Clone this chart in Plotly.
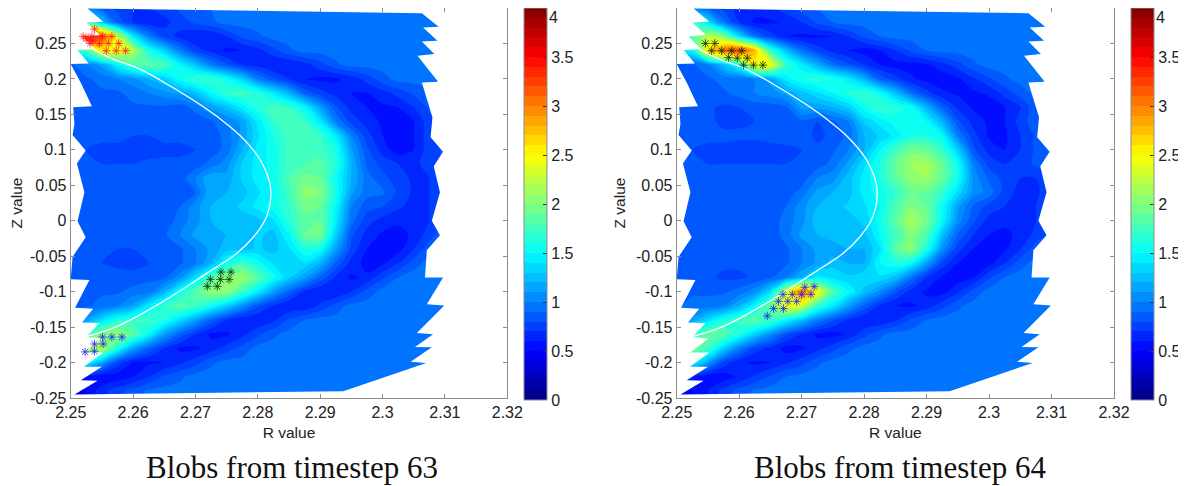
import plotly.graph_objects as go

W, H = 1178, 478   # the page body adds an 8 px margin round the figure
R_cols = [round(2.25 + 0.0025 * i, 4) for i in range(25)]
Z_rows = [round(0.30 - 0.02 * k, 2) for k in range(29)]

field_63 = [
 [1.0,1.0,.88,.76,.7,.7,.76,.82,.88,.9,.94],
 [1.13,1.6,1.26,.88,.7,.64,.66,.76,.82,.88,.94],
 [2.0,3.4,3.3,2.3,1.44,1.0,.76,.66,.6,.6,.7,.82,.88,.94],
 [1.3,1.8,2.5,2.5,2.2,1.6,1.32,1.0,.76,.66,.58,.6,.66,.76,.88,.94],
 [.88,1.0,1.13,1.5,1.8,1.85,1.8,1.5,1.26,1.0,.82,.7,.64,.6,.6,.66,.76,.88,.94],
 [.88,.88,.94,1.0,1.06,1.2,1.32,1.55,1.7,1.7,1.55,1.32,1.0,.82,.7,.6,.58,.58,.64,.74,.86,.94],
 [.84,.84,.88,.88,.94,1.0,1.06,1.13,1.26,1.5,1.7,1.75,1.65,1.44,1.2,.88,.74,.66,.6,.6,.66,.74,.82,.88,.94],
 [.84,.84,.84,.88,.88,.88,.88,.84,.94,1.13,1.26,1.44,1.65,1.75,1.7,1.5,1.13,.82,.66,.6,.58,.6,.7,.82,.94],
 [.84,.84,.84,.84,.84,.88,.88,.84,.84,.88,1.0,1.13,1.44,1.7,1.75,1.7,1.44,1.0,.76,.66,.58,.58,.6,.76,.88],
 [.82,.82,.82,.82,.8,.8,.82,.82,.82,.84,.94,1.13,1.38,1.6,1.75,1.75,1.7,1.44,1.0,.74,.6,.56,.6,.76,.88],
 [.82,.8,.78,.78,.76,.76,.78,.78,.8,.84,.94,1.2,1.44,1.55,1.75,1.8,1.75,1.6,1.13,.82,.66,.54,.6,.76,.82],
 [.84,.82,.8,.8,.8,.82,.82,.82,.84,.94,1.06,1.32,1.44,1.55,1.75,1.8,1.85,1.65,1.2,.88,.76,.7,.66,.76,.82],
 [.84,.82,.82,.82,.82,.82,.82,.84,1.0,1.2,1.13,1.32,1.44,1.55,1.8,1.95,1.9,1.55,1.2,.94,.84,.74,.68,.7,.76],
 [.84,.82,.82,.82,.82,.82,.82,.84,.9,1.2,1.2,1.26,1.38,1.5,1.75,2.05,2.0,1.6,1.13,.94,.92,.78,.68,.7,.76],
 [.84,.82,.82,.82,.82,.82,.84,.9,1.06,1.2,1.26,1.32,1.44,1.55,1.7,1.95,1.9,1.5,1.0,.84,.8,.72,.66,.7,.82],
 [.84,.82,.82,.82,.82,.82,.84,.94,1.06,1.2,1.26,1.26,1.26,1.38,1.65,1.85,1.9,1.44,.94,.74,.66,.62,.62,.7,.82],
 [.84,.82,.8,.8,.8,.84,.88,1.0,1.13,1.13,1.2,1.2,1.32,1.26,1.5,1.9,1.95,1.32,.82,.66,.58,.56,.62,.76,.88],
 [.84,.82,.8,.8,.8,.82,.84,.88,1.0,1.13,1.26,1.26,1.32,1.26,1.38,1.6,1.55,1.13,.76,.6,.54,.56,.7,.86,.94],
 [.82,.82,.8,.78,.76,.8,.84,.88,1.0,1.2,1.55,1.75,1.55,1.38,1.38,1.38,1.2,.88,.66,.56,.58,.7,.86,.94],
 [.82,.84,.84,.84,.84,.88,.88,1.06,1.38,1.8,2.05,2.1,1.85,1.55,1.32,1.13,.88,.68,.58,.62,.78,.9,.94],
 [.84,.88,.88,.88,.94,.94,1.2,1.55,1.85,2.05,2.05,1.75,1.44,1.13,.88,.68,.6,.6,.7,.84,.94],
 [.88,.88,.94,1.0,1.13,1.44,1.7,1.85,1.75,1.55,1.32,1.06,.82,.68,.6,.62,.72,.84,.94],
 [1.0,1.13,1.38,1.6,1.7,1.75,1.6,1.38,1.13,.88,.7,.6,.6,.68,.82,.9,.94],
 [1.26,1.7,2.0,2.1,1.85,1.5,1.13,.88,.7,.58,.58,.66,.78,.88,.94],
 [1.5,2.2,2.2,1.6,1.13,.88,.7,.58,.58,.64,.74,.84,.94],
 [1.26,1.5,1.13,.76,.6,.58,.6,.68,.76,.88,.94],
 [.76,.6,.5,.54,.6,.7,.82,.88,.94],
 [.45,.5,.66,.76,.84,.92,.94],
 [.45,.5,.66,.76,.84,.92,.94],
]

field_64 = [
 [1.0,1.0,.88,.76,.66,.64,.68,.76,.84,.9,.94],
 [1.5,1.7,1.38,.94,.7,.58,.58,.62,.7,.82,.9,.94],
 [1.6,1.8,2.2,2.0,1.38,.94,.76,.6,.58,.58,.6,.7,.82,.9,.94],
 [1.5,1.5,2.6,3.1,3.3,2.8,1.7,1.26,.94,.76,.66,.6,.56,.6,.7,.82,.9,.94],
 [.88,.88,1.0,1.26,1.6,2.5,2.5,1.7,1.44,1.2,.94,.82,.7,.6,.56,.56,.58,.66,.76,.88,.94],
 [.84,.88,.88,.94,.94,1.0,1.13,1.44,1.6,1.65,1.6,1.44,1.2,.88,.74,.62,.56,.54,.58,.68,.78,.88,.94],
 [.84,.84,.88,.88,.94,1.0,1.06,1.13,1.26,1.38,1.5,1.65,1.7,1.55,1.26,.94,.74,.62,.58,.58,.62,.74,.84,.94,.94],
 [.84,.84,.82,.78,.8,.84,.84,.88,1.13,1.13,1.2,1.32,1.55,1.7,1.65,1.55,1.2,.88,.68,.58,.54,.6,.7,.88,.94],
 [.84,.84,.82,.78,.78,.8,.84,.84,.88,.8,.88,1.0,1.32,1.44,1.55,1.6,1.5,1.2,.82,.66,.58,.6,.74,.88,.94],
 [.84,.82,.82,.82,.82,.82,.84,.84,.84,.78,.82,.94,1.2,1.32,1.44,1.6,1.6,1.5,1.0,.74,.58,.58,.7,.82,.84],
 [.82,.8,.78,.78,.76,.76,.76,.78,.8,.82,.88,1.0,1.2,1.5,1.75,1.95,1.9,1.7,1.32,.82,.66,.6,.7,.82,.82],
 [.82,.82,.8,.8,.8,.8,.8,.8,.82,.84,.94,1.13,1.38,1.6,1.9,2.1,2.15,1.9,1.55,1.0,.76,.7,.74,.82,.82],
 [.82,.82,.82,.82,.82,.82,.82,.82,.84,1.0,1.06,1.26,1.44,1.6,1.85,2.05,2.1,1.9,1.55,1.06,.88,.76,.7,.7,.82],
 [.82,.82,.82,.82,.82,.82,.82,.84,.94,1.13,1.2,1.26,1.44,1.55,1.7,1.9,1.9,1.7,1.38,1.06,.96,.76,.66,.66,.82],
 [.84,.82,.82,.82,.82,.82,.84,.9,1.06,1.2,1.26,1.32,1.38,1.5,1.8,2.0,1.9,1.55,1.13,.88,.76,.7,.68,.7,.82],
 [.84,.82,.82,.82,.82,.82,.84,.94,1.06,1.26,1.26,1.26,1.32,1.55,1.85,2.15,1.95,1.5,1.06,.82,.66,.62,.66,.7,.82],
 [.84,.82,.82,.82,.82,.82,.84,.94,1.13,1.2,1.26,1.26,1.26,1.5,1.75,2.0,1.8,1.26,.88,.7,.6,.58,.62,.74,.84],
 [.84,.82,.82,.82,.82,.82,.84,.88,1.0,1.13,1.13,1.2,1.2,1.38,1.85,2.05,1.6,1.06,.74,.6,.54,.58,.7,.86,.94],
 [.82,.82,.82,.82,.82,.84,.84,.88,1.0,1.13,1.26,1.2,1.2,1.5,1.6,1.5,1.13,.76,.6,.54,.56,.7,.86,.94],
 [.82,.82,.82,.78,.78,.82,.88,1.0,1.2,1.44,1.38,1.32,1.38,1.38,1.26,.94,.7,.58,.54,.6,.78,.9,.94],
 [.84,.88,.88,.88,.94,1.06,1.38,2.3,3.1,2.5,1.8,1.5,1.26,1.06,.82,.66,.58,.56,.68,.84,.94],
 [.88,.94,.94,1.0,1.2,1.5,1.9,2.5,2.3,1.7,1.44,1.13,.88,.68,.6,.58,.64,.76,.88,.94],
 [1.0,1.13,1.38,1.6,1.75,1.85,1.75,1.5,1.26,1.0,.82,.68,.6,.6,.68,.82,.9,.94],
 [1.26,1.65,1.9,1.85,1.6,1.32,1.06,.82,.68,.58,.56,.62,.76,.88,.94],
 [1.9,1.95,1.75,1.32,1.0,.76,.66,.56,.58,.66,.76,.88,.94],
 [1.5,1.5,1.13,.76,.62,.58,.6,.68,.76,.88,.94],
 [.82,.62,.5,.54,.62,.72,.82,.9,.94],
 [.45,.5,.6,.74,.84,.92,.94],
 [.45,.5,.6,.74,.84,.92,.94],
]

# Outline of the measured region (shared by both panels)
edge_R = [2.2527,2.2552,2.2525,2.2547,2.2519,2.2539,2.2511,2.2529,2.25,2.2516,2.2534,2.2504,
          2.2506,2.2503,2.2524,2.251,2.2522,2.2511,2.2524,2.2503,2.25,2.253,2.2507,2.2536,
          2.2518,2.2546,2.2525,2.2551,2.2522,2.2552,2.2521,2.255,2.2516,2.2543,2.2506,
          2.2937,2.307,2.3045,2.3079,2.3052,2.3081,2.3055,2.3099,2.3071,2.3097,2.3068,
          2.3071,2.3092,2.3079,2.3092,2.3082,2.3097,2.3077,2.308,2.3063,2.3089,2.3056,
          2.3083,2.3063,2.3088,2.3065,2.309,2.3063]
edge_Z = [.2993,.2806,.2796,.2618,.2599,.2421,.2407,.2218,.221,.195,.1613,.1599,
          .1364,.1209,.0989,.0806,.0401,-.0007,-.0232,-.051,-.0827,-.0836,-.1229,-.1243,
          -.1435,-.1444,-.1638,-.1662,-.1859,-.1859,-.2061,-.2061,-.2249,-.2258,-.2451,
          -.2404,-.2005,-.199,-.1785,-.178,-.16,-.1584,-.1196,-.1178,-.08,-.08,
          -.0416,-.0206,0,.04,.0768,.0974,.1176,.1458,.1951,.196,.2326,
          .235,.2528,.2538,.2725,.2735,.2927]

curve_R = [2.2536,2.2568,2.2611,2.2665,2.2718,2.275,2.2777,2.2803,2.2819,2.2821,2.2818,2.2811,
           2.2793,2.2766,2.2718,2.2665,2.2611,2.2568,2.2526]
curve_Z = [.242,.2279,.2138,.1871,.1575,.1364,.1153,.0871,.0542,.0378,.0167,0,
           -.0229,-.0463,-.0743,-.1047,-.1327,-.1514,-.1631]

stars_63_top_R = [2.2538,2.252,2.2534,2.2551,2.2566,2.2531,2.2546,2.2561,2.2577,2.2557,2.2573,2.2588,2.2528,2.2536,2.2533,2.2525]
stars_63_top_Z = [.2702,.2599,.2599,.2599,.2599,.25,.25,.25,.25,.2397,.2397,.2397,.2575,.2547,.2535,.2565]
stars_63_mid_R = [2.2741,2.2757,2.2724,2.274,2.2754,2.2719,2.2735]
stars_63_mid_Z = [-.0724,-.0724,-.0827,-.0827,-.0827,-.0925,-.0925]
stars_63_low_R = [2.2551,2.2566,2.2582,2.2538,2.2552,2.2523,2.2538]
stars_63_low_Z = [-.164,-.164,-.164,-.1738,-.1738,-.185,-.1841]
stars_64_top_R = [2.2546,2.2561,2.2556,2.2572,2.2588,2.2604,2.2583,2.2597,2.2613,2.2607,2.2623,2.2638]
stars_64_top_Z = [.25,.25,.2397,.2397,.2397,.2397,.2303,.2293,.2293,.2195,.2195,.2195]
stars_64_low_R = [2.272,2.2705,2.267,2.2685,2.27,2.2715,2.2663,2.2678,2.2692,2.2655,2.2671,2.2645]
stars_64_low_Z = [-.093,-.0939,-.1038,-.1038,-.1038,-.1038,-.1136,-.1136,-.1136,-.1239,-.1239,-.1343]

R_ticks = [2.25,2.26,2.27,2.28,2.29,2.3,2.31,2.32]
R_labels = ["2.25","2.26","2.27","2.28","2.29","2.3","2.31","2.32"]
Z_ticks = [-.25,-.2,-.15,-.1,-.05,0,.05,.1,.15,.2,.25]
Z_labels = ["-0.25","-0.2","-0.15","-0.1","-0.05","0","0.05","0.1","0.15","0.2","0.25"]
cb_ticks = [0,.5,1,1.5,2,2.5,3,3.5]
cb_labels = ["0","0.5","1","1.5","2","2.5","3","3.5"]
cb_top_label = "4"
captions = ["Blobs from timestep 63", "Blobs from timestep 64"]

JET = [[0,"#000080"],[.125,"#0000ff"],[.375,"#00ffff"],[.625,"#ffff00"],[.875,"#ff0000"],[1,"#800000"]]
AX_COL = "#8c8c8c"
TXT = "#222222"
FONT = "Liberation Sans"

def fx(px):
    return (px - 8) / W

def fy(py):
    return 1 - (py - 8) / H

def full(rows):
    return [r + [r[-1]] * (25 - len(r)) for r in rows]

hole_R = [2.25,2.32,2.32,2.25,2.25] + edge_R + [edge_R[0]]
hole_Z = [.30,.30,-.25,-.25,.30] + edge_Z + [edge_Z[0]]

fig = go.Figure()
panels = [
    dict(field=field_63, xa="x", ya="y", left=70.7, right=507.3, cbx=524.3, cap=292,
         stars=[(stars_63_top_R, stars_63_top_Z, "#ff2020"),
                (stars_63_mid_R, stars_63_mid_Z, "#103010"),
                (stars_63_low_R, stars_63_low_Z, "#2020ff")]),
    dict(field=field_64, xa="x2", ya="y2", left=676.7, right=1114, cbx=1131, cap=900,
         stars=[(stars_64_top_R, stars_64_top_Z, "#103010"),
                (stars_64_low_R, stars_64_low_Z, "#2020ff")]),
]
for p in panels:
    fig.add_trace(go.Contour(
        x=R_cols, y=Z_rows, z=full(p["field"]), xaxis=p["xa"], yaxis=p["ya"],
        zmin=0, zmax=4, colorscale=JET,
        contours=dict(start=0, end=4, size=0.1, coloring="fill", showlines=False),
        line=dict(width=0, smoothing=0.8),
        hoverinfo="skip",
        colorbar=dict(x=fx(p["cbx"]), xanchor="left", thickness=23, thicknessmode="pixels",
                      y=fy(400), yanchor="bottom", len=392 / H, lenmode="fraction",
                      outlinecolor=AX_COL, outlinewidth=1, xpad=0, ypad=0,
                      tickvals=cb_ticks, ticktext=cb_labels, ticks="inside", ticklen=4,
                      tickcolor="#333333", tickfont=dict(family=FONT, size=16, color=TXT)),
    ))
    fig.add_trace(go.Scatter(x=hole_R, y=hole_Z, mode="lines", fill="toself", fillcolor="white",
                             line=dict(width=0, color="white"), xaxis=p["xa"], yaxis=p["ya"],
                             hoverinfo="skip", showlegend=False))
    fig.add_trace(go.Scatter(x=curve_R, y=curve_Z, mode="lines",
                             line=dict(color="white", width=1.3, shape="spline"),
                             xaxis=p["xa"], yaxis=p["ya"], hoverinfo="skip", showlegend=False))
    for sx, sy, col in p["stars"]:
        fig.add_trace(go.Scatter(x=sx, y=sy, mode="markers",
                                 marker=dict(symbol="asterisk-open", size=7, color=col,
                                             line=dict(color=col, width=0.8)),
                                 xaxis=p["xa"], yaxis=p["ya"], hoverinfo="skip", showlegend=False))

axis_common = dict(showgrid=False, zeroline=False, showline=True, linecolor=AX_COL, linewidth=1,
                   mirror="ticks", ticks="inside", ticklen=4, tickcolor=AX_COL,
                   tickfont=dict(family=FONT, size=16, color=TXT))
layout = dict(width=W, height=H, margin=dict(l=0, r=0, t=0, b=0, autoexpand=False), paper_bgcolor="white",
              plot_bgcolor="white", showlegend=False, annotations=[])
for i, p in enumerate(panels):
    sfx = "" if i == 0 else "2"
    layout["xaxis" + sfx] = dict(axis_common, domain=[fx(p["left"]), fx(p["right"])], range=[2.25, 2.32],
                                 tickvals=R_ticks, ticktext=R_labels, anchor="y" + sfx,
                                 title=dict(text="R value", font=dict(family=FONT, size=15.5, color=TXT), standoff=6))
    layout["yaxis" + sfx] = dict(axis_common, domain=[fy(398), 1], range=[-.25, .30],
                                 tickvals=Z_ticks, ticktext=Z_labels, anchor="x" + sfx,
                                 title=dict(text="Z value", font=dict(family=FONT, size=15.5, color=TXT), standoff=6))
    layout["annotations"].append(dict(text=captions[i], xref="paper", yref="paper", showarrow=False,
                                      x=fx(p["cap"]), xanchor="center", y=fy(467), yanchor="middle",
                                      font=dict(family="Liberation Serif", size=31, color="#111111")))
    layout["annotations"].append(dict(text=cb_top_label, xref="paper", yref="paper", showarrow=False,
                                      x=fx(p["cbx"] + 25), xanchor="left", y=1, yanchor="top",
                                      borderpad=0, xshift=-1,
                                      font=dict(family=FONT, size=16, color=TXT)))
fig.update_layout(**layout)
fig.write_html("out.html")
